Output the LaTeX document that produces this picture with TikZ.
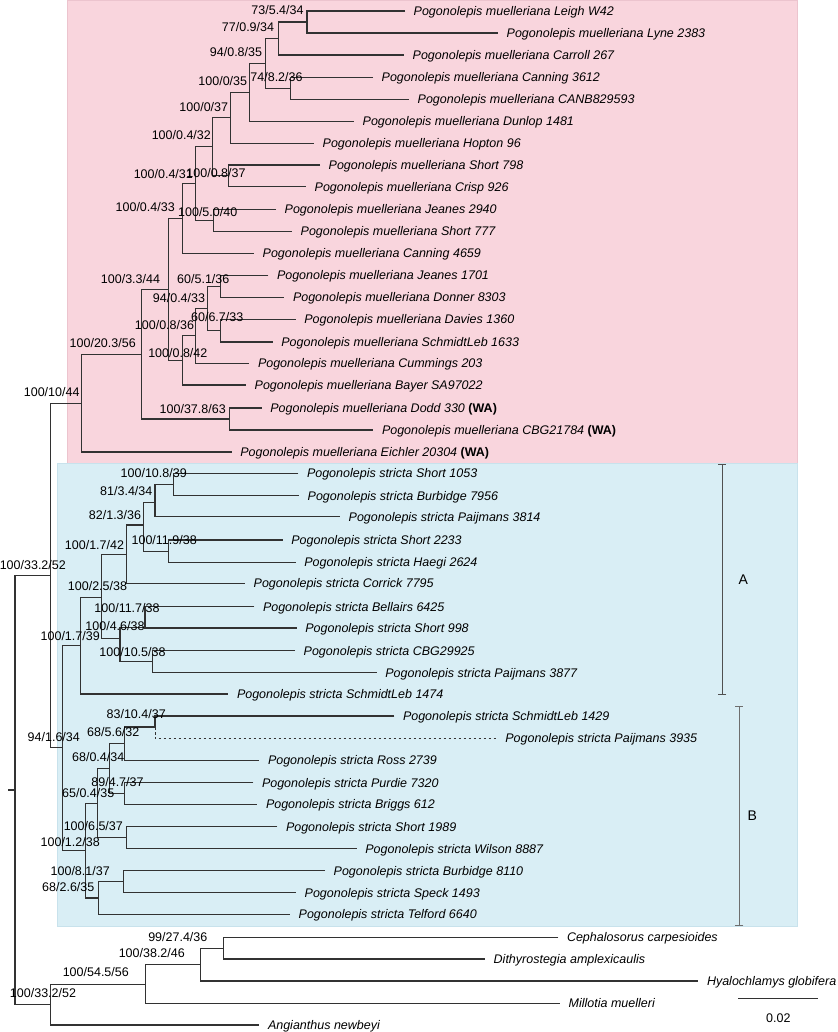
\documentclass[tikz,border=0pt]{standalone}
\usepackage{fontspec}
\setmainfont{Liberation Sans}
\usetikzlibrary{arrows.meta}
\definecolor{pinkbg}{RGB}{249,213,221}
\definecolor{pinkedge}{RGB}{236,196,206}
\definecolor{bluebg}{RGB}{217,238,245}
\definecolor{blueedge}{RGB}{200,226,236}
\definecolor{linec}{RGB}{50,50,50}
\definecolor{barA}{RGB}{80,80,80}
\definecolor{barB}{RGB}{110,110,110}
\tikzset{
  br/.style={draw=linec, line width=1.35pt},
  tip/.style={anchor=base west, xshift=8.5pt, yshift=-4.5pt, inner sep=0pt, font=\fontsize{12.5}{15}\selectfont\itshape},
  bs/.style={anchor=base, yshift=-4.5pt, inner sep=0pt, font=\fontsize{12.5}{15}\selectfont},
  cladebar/.style={line width=1.1pt, {Bar[width=8pt]}-{Bar[width=8pt]}},
  cladelab/.style={inner sep=0pt, font=\fontsize{14}{16}\selectfont},
}
\newcommand{\wa}{ \textbf{\upshape (WA)}}
\begin{document}
\begin{tikzpicture}[x=1pt,y=-1pt]
\useasboundingbox (0,0) rectangle (837,1032);
% backgrounds
\fill[pinkbg, draw=pinkedge, line width=0.6pt] (67,0.3) rectangle (797,463);
\fill[bluebg, draw=blueedge, line width=0.6pt] (57,463) rectangle (797,926);

% ---------- leaves: muelleriana ----------
\coordinate (m1) at (405,11);
\coordinate (m2) at (498,33);
\coordinate (m3) at (404,55);
\coordinate (m4) at (373,77.3);
\coordinate (m5) at (409,99.3);
\coordinate (m6) at (354,121.3);
\coordinate (m7) at (314,143.3);
\coordinate (m8) at (320,165);
\coordinate (m9) at (306,186.7);
\coordinate (m10) at (276,209.3);
\coordinate (m11) at (292,231.3);
\coordinate (m12) at (254,253.3);
\coordinate (m13) at (268.3,275.3);
\coordinate (m14) at (284.3,297.3);
\coordinate (m15) at (295.7,319.3);
\coordinate (m16) at (272.7,342);
\coordinate (m17) at (249.3,363.3);
\coordinate (m18) at (246,385);
\coordinate (m19) at (261.7,408);
\coordinate (m20) at (373.3,430);
\coordinate (m21) at (231.7,452);
% internal: muelleriana
\coordinate (N1) at (307,22);
\coordinate (N2) at (278.7,38.5);
\coordinate (N4) at (290.7,88.3);
\coordinate (N3) at (265.7,63.3);
\coordinate (N5) at (249.3,92.3);
\coordinate (N6) at (230.7,117.7);
\coordinate (N8) at (228.7,175.8);
\coordinate (N7) at (212.7,146.7);
\coordinate (N10) at (213.3,220.3);
\coordinate (N9) at (195.3,183.5);
\coordinate (N11) at (182.7,218.5);
\coordinate (N13) at (220.7,286.3);
\coordinate (N15) at (220.7,330.7);
\coordinate (N14) at (207.3,308.5);
\coordinate (N17) at (195.3,335.8);
\coordinate (N18) at (182.7,360.5);
\coordinate (N12) at (168.3,289.8);
\coordinate (N20) at (229.3,419);
\coordinate (N19) at (141.7,354.2);
\coordinate (N21) at (81.7,403.2);

% ---------- leaves: stricta ----------
\coordinate (s1) at (298.3,473.3);
\coordinate (s2) at (299,495.7);
\coordinate (s3) at (340,516.7);
\coordinate (s4) at (282.7,540);
\coordinate (s5) at (295.7,562.3);
\coordinate (s6) at (245,583.3);
\coordinate (s7) at (254.3,606.7);
\coordinate (s8) at (296.7,628);
\coordinate (s9) at (295,650.7);
\coordinate (s10) at (376.7,672.7);
\coordinate (s11) at (228.3,694);
\coordinate (s12) at (394.3,716);
\coordinate (s13) at (496.7,738.3);
\coordinate (s14) at (259.3,760.3);
\coordinate (s15) at (253.3,782.7);
\coordinate (s16) at (257.3,804.3);
\coordinate (s17) at (277.3,826.7);
\coordinate (s18) at (356.7,848.7);
\coordinate (s19) at (325,870.7);
\coordinate (s20) at (296,892.7);
\coordinate (s21) at (290,914.3);
% internal: stricta
\coordinate (N29) at (173.3,484.5);
\coordinate (N30) at (155,502.3);
\coordinate (N31) at (168.3,551.2);
\coordinate (N28) at (143.3,525);
\coordinate (N27) at (126.7,554.2);
\coordinate (N33) at (145,627.5);
\coordinate (N34) at (152.7,661.7);
\coordinate (N32) at (120,638.3);
\coordinate (N26) at (101.7,597.3);
\coordinate (N25) at (80.7,645.7);
\coordinate (N35) at (155,727);
\coordinate (N36) at (124.3,743.7);
\coordinate (N38) at (124.3,793.5);
\coordinate (N37) at (109.3,768.4);
\coordinate (N40) at (126.7,837.7);
\coordinate (N39) at (97.7,803.2);
\coordinate (N42) at (123.3,881.7);
\coordinate (N41) at (98.3,898);
\coordinate (N24) at (85.3,850.5);
\coordinate (N23) at (62.3,747.8);
\coordinate (N22) at (50.7,575.7);

% ---------- outgroups ----------
\coordinate (o1) at (558.3,937.3);
\coordinate (o2) at (485,959);
\coordinate (o3) at (698.3,981);
\coordinate (o4) at (560,1003.3);
\coordinate (o5) at (259.3,1025);
\coordinate (N43) at (223.3,948.2);
\coordinate (N44) at (200.7,964.7);
\coordinate (N45) at (145.7,984.2);
\coordinate (N46) at (50.7,1004.6);
\coordinate (root) at (15,790);
\coordinate (rootstub) at (8.3,790);

% ---------- branches ----------
\draw[br] (m1) -| (N1) |- (m2);
\draw[br] (N1) -| (N2) |- (m3);
\draw[br] (m4) -| (N4) |- (m5);
\draw[br] (N2) -| (N3) |- (N4);
\draw[br] (N3) -| (N5) |- (m6);
\draw[br] (N5) -| (N6) |- (m7);
\draw[br] (m8) -| (N8) |- (m9);
\draw[br] (N6) -| (N7) |- (N8);
\draw[br] (m10) -| (N10) |- (m11);
\draw[br] (N7) -| (N9) |- (N10);
\draw[br] (N9) -| (N11) |- (m12);
\draw[br] (m13) -| (N13) |- (m14);
\draw[br] (m15) -| (N15) |- (m16);
\draw[br] (N13) -| (N14) |- (N15);
\draw[br] (N14) -| (N17) |- (m17);
\draw[br] (N17) -| (N18) |- (m18);
\draw[br] (N11) -| (N12) |- (N18);
\draw[br] (m19) -| (N20) |- (m20);
\draw[br] (N12) -| (N19) |- (N20);
\draw[br] (N19) -| (N21) |- (m21);

\draw[br] (s1) -| (N29) |- (s2);
\draw[br] (N29) -| (N30) |- (s3);
\draw[br] (s4) -| (N31) |- (s5);
\draw[br] (N30) -| (N28) |- (N31);
\draw[br] (N28) -| (N27) |- (s6);
\draw[br] (s7) -| (N33) |- (s8);
\draw[br] (s9) -| (N34) |- (s10);
\draw[br] (N33) -| (N32) |- (N34);
\draw[br] (N27) -| (N26) |- (N32);
\draw[br] (N26) -| (N25) |- (s11);
\draw[br] (s12) -| (N35);
\draw[br, dash pattern=on 2.5pt off 2.5pt, line width=1pt] (N35) |- (s13);
\draw[br] (N35) -| (N36) |- (s14);
\draw[br] (s15) -| (N38) |- (s16);
\draw[br] (N36) -| (N37) |- (N38);
\draw[br] (s17) -| (N40) |- (s18);
\draw[br] (N37) -| (N39) |- (N40);
\draw[br] (s19) -| (N42) |- (s20);
\draw[br] (N42) -| (N41) |- (s21);
\draw[br] (N39) -| (N24) |- (N41);
\draw[br] (N25) -| (N23) |- (N24);
\draw[br] (N21) -| (N22) |- (N23);

\draw[br] (o1) -| (N43) |- (o2);
\draw[br] (N43) -| (N44) |- (o3);
\draw[br] (N44) -| (N45) |- (o4);
\draw[br] (N45) -| (N46) |- (o5);
\draw[br] (N22) -| (root) |- (N46);
\draw[br] (rootstub) -- (root);

% ---------- tip labels ----------
\node[tip] (tm1) at (m1) {Pogonolepis muelleriana Leigh W42};
\node[tip] (tm2) at (m2) {Pogonolepis muelleriana Lyne 2383};
\node[tip] (tm3) at (m3) {Pogonolepis muelleriana Carroll 267};
\node[tip] (tm4) at (m4) {Pogonolepis muelleriana Canning 3612};
\node[tip] (tm5) at (m5) {Pogonolepis muelleriana CANB829593};
\node[tip] (tm6) at (m6) {Pogonolepis muelleriana Dunlop 1481};
\node[tip] (tm7) at (m7) {Pogonolepis muelleriana Hopton 96};
\node[tip] (tm8) at (m8) {Pogonolepis muelleriana Short 798};
\node[tip] (tm9) at (m9) {Pogonolepis muelleriana Crisp 926};
\node[tip] (tm10) at (m10) {Pogonolepis muelleriana Jeanes 2940};
\node[tip] (tm11) at (m11) {Pogonolepis muelleriana Short 777};
\node[tip] (tm12) at (m12) {Pogonolepis muelleriana Canning 4659};
\node[tip] (tm13) at (m13) {Pogonolepis muelleriana Jeanes 1701};
\node[tip] (tm14) at (m14) {Pogonolepis muelleriana Donner 8303};
\node[tip] (tm15) at (m15) {Pogonolepis muelleriana Davies 1360};
\node[tip] (tm16) at (m16) {Pogonolepis muelleriana SchmidtLeb 1633};
\node[tip] (tm17) at (m17) {Pogonolepis muelleriana Cummings 203};
\node[tip] (tm18) at (m18) {Pogonolepis muelleriana Bayer SA97022};
\node[tip] (tm19) at (m19) {Pogonolepis muelleriana Dodd 330\wa};
\node[tip] (tm20) at (m20) {Pogonolepis muelleriana CBG21784\wa};
\node[tip] (tm21) at (m21) {Pogonolepis muelleriana Eichler 20304\wa};

\node[tip] (ts1) at (s1) {Pogonolepis stricta Short 1053};
\node[tip] (ts2) at (s2) {Pogonolepis stricta Burbidge 7956};
\node[tip] (ts3) at (s3) {Pogonolepis stricta Paijmans 3814};
\node[tip] (ts4) at (s4) {Pogonolepis stricta Short 2233};
\node[tip] (ts5) at (s5) {Pogonolepis stricta Haegi 2624};
\node[tip] (ts6) at (s6) {Pogonolepis stricta Corrick 7795};
\node[tip] (ts7) at (s7) {Pogonolepis stricta Bellairs 6425};
\node[tip] (ts8) at (s8) {Pogonolepis stricta Short 998};
\node[tip] (ts9) at (s9) {Pogonolepis stricta CBG29925};
\node[tip] (ts10) at (s10) {Pogonolepis stricta Paijmans 3877};
\node[tip] (ts11) at (s11) {Pogonolepis stricta SchmidtLeb 1474};
\node[tip] (ts12) at (s12) {Pogonolepis stricta SchmidtLeb 1429};
\node[tip] (ts13) at (s13) {Pogonolepis stricta Paijmans 3935};
\node[tip] (ts14) at (s14) {Pogonolepis stricta Ross 2739};
\node[tip] (ts15) at (s15) {Pogonolepis stricta Purdie 7320};
\node[tip] (ts16) at (s16) {Pogonolepis stricta Briggs 612};
\node[tip] (ts17) at (s17) {Pogonolepis stricta Short 1989};
\node[tip] (ts18) at (s18) {Pogonolepis stricta Wilson 8887};
\node[tip] (ts19) at (s19) {Pogonolepis stricta Burbidge 8110};
\node[tip] (ts20) at (s20) {Pogonolepis stricta Speck 1493};
\node[tip] (ts21) at (s21) {Pogonolepis stricta Telford 6640};

\node[tip] (to1) at (o1) {Cephalosorus carpesioides};
\node[tip] (to2) at (o2) {Dithyrostegia amplexicaulis};
\node[tip] (to3) at (o3) {Hyalochlamys globifera};
\node[tip] (to4) at (o4) {Millotia muelleri};
\node[tip] (to5) at (o5) {Angianthus newbeyi};

% ---------- support labels ----------
\node[bs] (bN1) at (277.5,10.5) {73/5.4/34};
\node[bs] (bN2) at (248,27.3) {77/0.9/34};
\node[bs] (bN3) at (236,51.7) {94/0.8/35};
\node[bs] (bN4) at (276.5,77.3) {74/8.2/36};
\node[bs] (bN5) at (222.8,81) {100/0/35};
\node[bs] (bN6) at (203.8,106.7) {100/0/37};
\node[bs] (bN7) at (181.3,135) {100/0.4/32};
\node[bs] (bN8) at (216,172.7) {100/0.8/37};
\node[bs] (bN9) at (163.3,174.5) {100/0.4/31};
\node[bs] (bN10) at (207.7,211.7) {100/5.0/40};
\node[bs] (bN11) at (145.2,206.7) {100/0.4/33};
\node[bs] (bN12) at (130.5,278.7) {100/3.3/44};
\node[bs] (bN13) at (203.3,279) {60/5.1/36};
\node[bs] (bN14) at (179,298.3) {94/0.4/33};
\node[bs] (bN15) at (217.2,316.7) {60/6.7/33};
\node[bs] (bN17) at (164.5,325.3) {100/0.8/36};
\node[bs] (bN18) at (177.8,352.7) {100/0.8/42};
\node[bs] (bN19) at (102.7,342.6) {100/20.3/56};
\node[bs] (bN20) at (192.7,409) {100/37.8/63};
\node[bs] (bN21) at (51.7,392.3) {100/10/44};

\node[bs] (bN29) at (153.7,473.3) {100/10.8/39};
\node[bs] (bN30) at (126.3,491) {81/3.4/34};
\node[bs] (bN28) at (115,515) {82/1.3/36};
\node[bs] (bN31) at (164.2,540) {100/11.9/38};
\node[bs] (bN27) at (94.5,545) {100/1.7/42};
\node[bs] (bN26) at (97.5,586) {100/2.5/38};
\node[bs] (bN33) at (127,608) {100/11.7/38};
\node[bs] (bN32) at (115,625.7) {100/4.6/38};
\node[bs] (bN25) at (70.2,636) {100/1.7/39};
\node[bs] (bN34) at (132.5,651.7) {100/10.5/38};
\node[bs] (bN35) at (136.2,714.3) {83/10.4/37};
\node[bs] (bN36) at (113.3,732.3) {68/5.6/32};
\node[bs] (bN23) at (53.8,737.3) {94/1.6/34};
\node[bs] (bN37) at (98.2,756.7) {68/0.4/34};
\node[bs] (bN38) at (117.5,781.7) {89/4.7/37};
\node[bs] (bN39) at (88.2,792.7) {65/0.4/35};
\node[bs] (bN40) at (93.3,825.7) {100/6.5/37};
\node[bs] (bN24) at (70.2,841.7) {100/1.2/38};
\node[bs] (bN42) at (80.2,870.7) {100/8.1/37};
\node[bs] (bN41) at (68.3,887.3) {68/2.6/35};
\node[bs] (bN22) at (32.8,565) {100/33.2/52};

\node[bs] (bN43) at (177.8,936.7) {99/27.4/36};
\node[bs] (bN44) at (151.8,953.3) {100/38.2/46};
\node[bs] (bN45) at (95.8,972.3) {100/54.5/56};
\node[bs] (bN46) at (43,993.3) {100/33.2/52};

% ---------- clade bars ----------
\coordinate (Atop) at (722.3,463.5);
\coordinate (Abot) at (722.3,695);
\draw[cladebar, draw=barA] (Atop) -- (Abot);
\node[cladelab] (Alab) at (743.3,580) {A};
\coordinate (Btop) at (739.3,705.7);
\coordinate (Bbot) at (739.3,925.7);
\draw[cladebar, draw=barB] (Btop) -- (Bbot);
\node[cladelab] (Blab) at (752.3,816) {B};

% ---------- scale bar ----------
\coordinate (sc1) at (738.3,998.3);
\coordinate (sc2) at (818.3,998.3);
\draw[br, line width=1.1pt] (sc1) -- (sc2);
\node[bs] (sclab) at (778.3,1018.3) {0.02};
\end{tikzpicture}
\end{document}
